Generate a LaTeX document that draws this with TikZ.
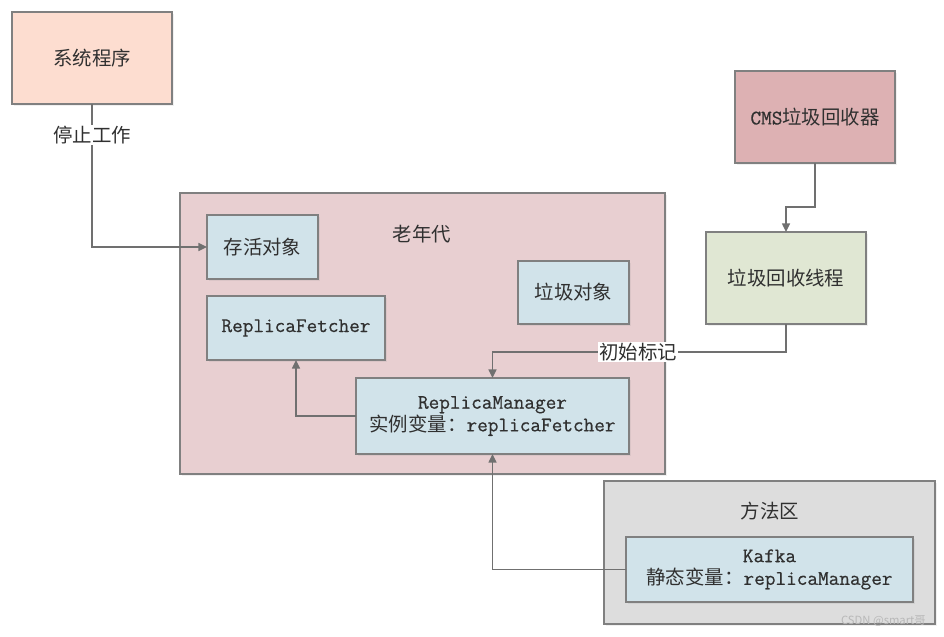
\documentclass[tikz,border=0pt]{standalone}
\usepackage{fontspec}
\setmonofont{Latin Modern Mono}[FakeBold=0.6]
\newfontfamily\cjk{Noto Sans CJK SC}[Scale=0.94]
\usetikzlibrary{arrows.meta,shadows}

\definecolor{bord}{HTML}{808080}
\definecolor{fleche}{HTML}{707070}
\definecolor{texte}{HTML}{303030}
\definecolor{peche}{HTML}{FDDDD0}
\definecolor{vieux}{HTML}{E8CFD1}
\definecolor{objet}{HTML}{D1E3EA}
\definecolor{cms}{HTML}{DDB1B3}
\definecolor{fil}{HTML}{E0E7D3}
\definecolor{methode}{HTML}{DDDDDD}

\begin{document}
\begin{tikzpicture}[x=0.75pt,y=-0.75pt,
        boite/.style={draw=bord, line width=0.9pt, inner sep=0pt, outer sep=0pt,
            text=texte, align=center, font=\ttfamily\fontsize{15.5}{17}\selectfont,
            drop shadow={opacity=0.12, shadow xshift=1.2pt, shadow yshift=-1.2pt}},
        etiquette/.style={inner sep=1pt, text=texte, font=\ttfamily\fontsize{15.5}{17}\selectfont},
        lien/.style={draw=fleche, line width=1.1pt, -{Triangle[length=6.5pt,width=6pt]}}]
        \useasboundingbox (0,0) rectangle (944,636);

        % les zones memoire
        \node[boite, fill=vieux, minimum width=363.75pt, minimum height=210.75pt] (oldGen) at (422.5,333.5) {};
        \node[etiquette] (oldGenLbl) at (422,234) {\cjk 老年代};

        \node[boite, fill=methode, minimum width=248.25pt, minimum height=107.25pt] (method) at (769.5,552.5) {};
        \node[etiquette] (methodLbl) at (770,511) {\cjk 方法区};

        % les boites
        \node[boite, fill=peche, minimum width=120pt, minimum height=69pt] (sys) at (92,58) {\cjk 系统程序};
        \node[boite, fill=cms, minimum width=120pt, minimum height=69pt] (cmsGc) at (815,117) {CMS{\cjk 垃圾回收器}};
        \node[boite, fill=fil, minimum width=120pt, minimum height=69pt] (gcThread) at (786,278) {\cjk 垃圾回收线程};

        \node[boite, fill=objet, minimum width=83.25pt, minimum height=48pt] (alive) at (262.5,247) {\cjk 存活对象};
        \node[boite, fill=objet, minimum width=83.25pt, minimum height=47.25pt] (garbage) at (573.5,292.5) {\cjk 垃圾对象};
        \node[boite, fill=objet, minimum width=133.5pt, minimum height=48pt] (fetcher) at (296,328) {ReplicaFetcher};
        \node[boite, fill=objet, minimum width=204.75pt, minimum height=57pt] (manager) at (492.5,416)
            {ReplicaManager\\{\cjk 实例变量：}replicaFetcher};
        \node[boite, fill=objet, minimum width=215.25pt, minimum height=48.75pt] (kafka) at (769.5,569.5)
            {Kafka\\{\cjk 静态变量：}replicaManager};

        % les liens
        \draw[lien] (sys.south) |- (alive.west);
        \draw[lien] (manager.west) -| (fetcher.south);
        \draw[lien] (cmsGc.south) -- ++(0,44) -| (gcThread.north);
        \draw[lien] (gcThread.south) -- ++(0,28) -| (manager.north);
        \draw[lien] (kafka.west) -| (manager.south);

        % etiquettes des liens (par dessus)
        \node[etiquette, fill=white] (stopLbl) at (92,135) {\cjk 停止工作};
        \node[etiquette, fill=white] (markLbl) at (638,352) {\cjk 初始标记};

        % filigrane
        \node[anchor=south east, inner sep=0pt, text=black!28, font=\cjk\fontsize{9}{10}\selectfont] (mark) at (926,627) {CSDN @smart哥};
\end{tikzpicture}
\end{document}
